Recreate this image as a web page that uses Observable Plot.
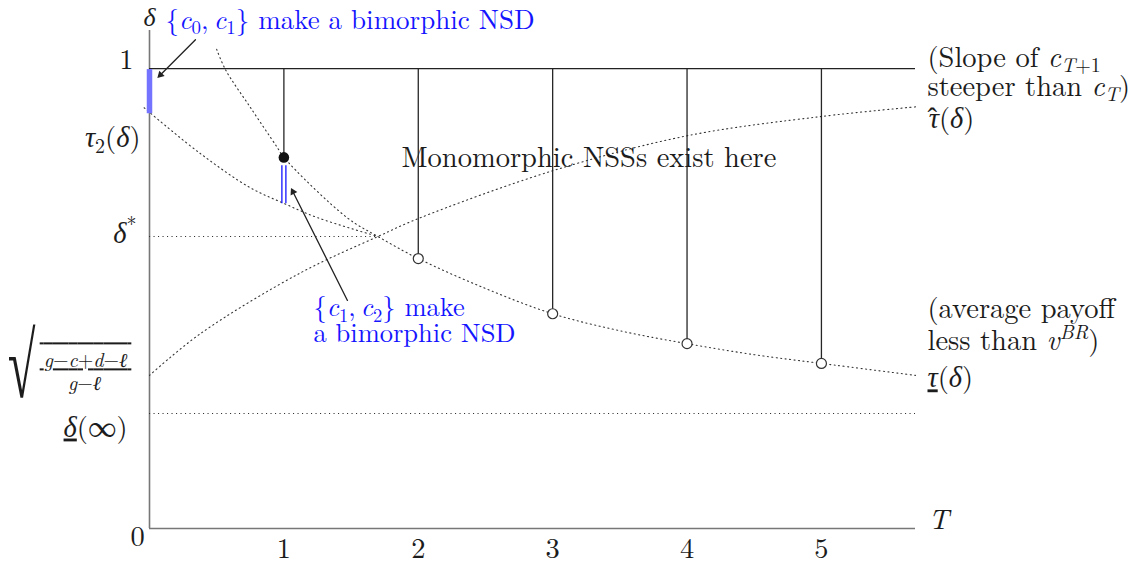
<!DOCTYPE html>
<html><head><meta charset="utf-8">
<script src="https://cdn.jsdelivr.net/npm/d3@7"></script>
<script src="https://cdn.jsdelivr.net/npm/@observablehq/plot@0.6"></script>
<style>html,body{margin:0;padding:0;background:#fff;} svg text{white-space:pre;}</style>
</head><body><div id="chart"></div>
<script>
// ---------- data ----------
const T = [1, 2, 3, 4, 5];
const tauLowAtT = [0.807, 0.587, 0.467, 0.402, 0.359];
const tauLowCurveX = [0.5, 0.565, 0.75, 0.95, 1, 1.47, 1.7, 2, 2.5, 3, 3.5, 4, 4.5, 5, 5.7];
const tauLowCurveY = [1.042, 0.998, 0.916, 0.829, 0.807, 0.676, 0.635, 0.587, 0.522, 0.467, 0.43, 0.402, 0.378, 0.359, 0.333];
const tau2X = [-0.04, 0, 0.38, 0.75, 1, 1.25, 1.7];
const tau2Y = [0.915, 0.905, 0.815, 0.741, 0.707, 0.676, 0.635];
const tauHatX = [0, 0.38, 1.13, 1.7, 2, 3, 4, 5, 5.7];
const tauHatY = [0.333, 0.424, 0.557, 0.635, 0.674, 0.778, 0.854, 0.896, 0.917];
const deltaTop = 1, deltaStar = 0.635, deltaStarT = 1.7, deltaInf = 0.25;
const xMax = 5.7, yMax = 1.083;
const bimorphicT = [0, 1];
const bimorphicLo = [0.902, 0.7065];
const bimorphicHi = [0.998, 0.789];
const xTicks = [1, 2, 3, 4, 5];
const xTickLabels = ["1", "2", "3", "4", "5"];
// annotation arrows (tail -> head), in data units
const arrowTail = [[0.342, 1.063], [1.473, 0.496]];
const arrowHead = [[0.052, 0.978], [1.049, 0.743]];

// ---------- layout ----------
const W = 1131, H = 565, mL = 149, mR = 216, mT = 30, mB = 37;
const kx = (W - mL - mR) / xMax, ky = (H - mT - mB) / yMax; // px per data unit

// ---------- tables ----------
const tauLow = tauLowCurveX.map((x, i) => ({x, y: tauLowCurveY[i]}));
const tau2 = tau2X.map((x, i) => ({x, y: tau2Y[i]}));
const tauHat = tauHatX.map((x, i) => ({x, y: tauHatY[i]}));
const stems = T.map((t, i) => ({t, v: tauLowAtT[i]}));
const bims = bimorphicT.map((t, i) => ({t, lo: bimorphicLo[i], hi: bimorphicHi[i]}));
const arrows = arrowTail.map((a, i) => {
  const h = arrowHead[i];
  const sx = (h[0] - a[0]) * kx, sy = -(h[1] - a[1]) * ky, len = Math.hypot(sx, sy);
  return {x1: a[0], y1: a[1], x2: h[0], y2: h[1], ux: sx / len, uy: sy / len,
          rot: Math.atan2(sx, -sy) * 180 / Math.PI};
});

const INK = "#1c1c1c", BLUE = "#1414ff", FS = 28.5;
const FONT = "Latin Modern Roman, Liberation Serif, serif";
const dotted = {stroke: "#333", strokeWidth: 1.1, strokeDasharray: "1.1,3.4"};

// labels: markup ~italic~  !underline!  _[sub]  ^[sup]  # = hat over previous glyph
const labels = [
  // y axis
  {x: 0, y: deltaTop, text: "1", dx: -16, dy: 0, anchor: "end"},
  {x: 0, y: tau2Y[1], text: "~τ~_[2](~δ~)", dx: -9, dy: 35, anchor: "end"},
  {x: 0, y: deltaStar, text: "~δ~^[*]", dx: -13, dy: 6, anchor: "end"},
  {x: 0, y: deltaInf, text: "!~δ~!(∞)", dx: -22, dy: 23, anchor: "end"},
  {x: 0, y: tauHatY[0], text: "√", dx: -114, dy: 22, anchor: "end", size: 56, scale: [0.9, 1.64]},
  {x: 0, y: tauHatY[0], text: "\u2009~g~−~c~+~d~−~ℓ~\u2009", dx: -64, dy: -8, anchor: "middle", size: 20, deco: "underline overline"},
  {x: 0, y: tauHatY[0], text: "~g~−~ℓ~", dx: -65, dy: 15, anchor: "middle", size: 20},
  {x: 0, y: 0, text: "0", dx: -12, dy: 17, anchor: "middle"},
  {x: 0, y: yMax, text: "~δ~", dx: 0, dy: -5, anchor: "middle", size: 26},
  {x: xMax, y: 0, text: "~T~", dx: 13, dy: 0, anchor: "start"},
  // right side
  {x: xMax, y: deltaTop, text: "(Slope of ~c~_[~T~+1]", dx: 12, dy: -2, anchor: "start"},
  {x: xMax, y: deltaTop, text: "steeper than ~c~_[~T~])", dx: 12, dy: 27, anchor: "start"},
  {x: xMax, y: tauHatY[tauHatY.length - 1], text: "~τ~#(~δ~)", dx: 12, dy: 21, anchor: "start"},
  {x: xMax, y: tauLowCurveY[tauLowCurveY.length - 1], text: "(average payoff", dx: 12, dy: -57, anchor: "start"},
  {x: xMax, y: tauLowCurveY[tauLowCurveY.length - 1], text: "less than ~v~^[~BR~])", dx: 12, dy: -25, anchor: "start"},
  {x: xMax, y: tauLowCurveY[tauLowCurveY.length - 1], text: "!~τ~!(~δ~)", dx: 12, dy: 12, anchor: "start"},
  // annotations
  {x: 0, y: yMax, text: "{~c~_[0],\u2009~c~_[1]} make a bimorphic NSD", dx: 16, dy: -2, anchor: "start", color: BLUE, size: 27},
  {x: 1.22, y: 0.459, text: "{~c~_[1],\u2009~c~_[2]} make", dx: 0, dy: -1, anchor: "start", color: BLUE, size: 26.5},
  {x: 1.22, y: 0.411, text: "a bimorphic NSD", dx: 0, dy: 2, anchor: "start", color: BLUE, size: 26.5},
  {x: 3.27, y: 0.787, text: "Monomorphic NSSs exist here", dx: 0, dy: 0, anchor: "middle"}
];

const textMarks = labels.map(l => Plot.text([l], {
  x: "x", y: "y", text: "text", dx: l.dx, dy: l.dy, textAnchor: l.anchor,
  lineAnchor: "bottom", fontSize: l.size || FS, fill: l.color || INK, fontFamily: FONT
}));

// filled arrow heads (triangles whose tip sits on the arrow head)
const HEAD_R = 3.6, TIP = HEAD_R * 1.55;
const headMarks = arrows.map(a => Plot.dot([a], {
  x: "x2", y: "y2", symbol: "triangle2", r: HEAD_R, fill: "#222", rotate: "rot",
  dx: -a.ux * TIP, dy: -a.uy * TIP
}));

const plot = Plot.plot({
  width: W, height: H,
  marginLeft: mL, marginRight: mR, marginTop: mT, marginBottom: mB,
  x: {domain: [0, xMax], axis: null},
  y: {domain: [0, yMax], axis: null},
  style: {fontFamily: FONT, background: "#fff"},
  marks: [
    Plot.ruleX([0], {y1: 0, y2: yMax, stroke: "#777", strokeWidth: 1.6}),
    Plot.ruleY([0], {x1: 0, x2: xMax, stroke: "#777", strokeWidth: 1.6}),
    Plot.ruleY([deltaTop], {x1: 0, x2: xMax, stroke: "#222", strokeWidth: 1.2}),
    Plot.ruleY([deltaStar], {x1: 0, x2: deltaStarT, ...dotted}),
    Plot.ruleY([deltaInf], {x1: 0, x2: xMax, ...dotted}),
    Plot.line(tauLow, {x: "x", y: "y", curve: "catmull-rom", ...dotted}),
    Plot.line(tau2, {x: "x", y: "y", curve: "catmull-rom", ...dotted}),
    Plot.line(tauHat, {x: "x", y: "y", curve: "catmull-rom", ...dotted}),
    Plot.ruleX(stems, {x: "t", y1: "v", y2: deltaTop, stroke: "#262626", strokeWidth: 1.3}),
    Plot.ruleX(bims.slice(0, 1), {x: "t", y1: "lo", y2: "hi", stroke: "#7373ff", strokeWidth: 5.5}),
    Plot.ruleX(bims.slice(1), {x: "t", y1: "lo", y2: "hi", stroke: BLUE, strokeWidth: 1.3, dx: -2}),
    Plot.ruleX(bims.slice(1), {x: "t", y1: "lo", y2: "hi", stroke: BLUE, strokeWidth: 1.3, dx: 2}),
    Plot.dot(stems.slice(0, 1), {x: "t", y: "v", r: 5.3, fill: "#111"}),
    Plot.dot(stems.slice(1), {x: "t", y: "v", r: 5, fill: "#fff", stroke: "#333", strokeWidth: 1.2}),
    Plot.arrow(arrows, {x1: "x1", y1: "y1", x2: "x2", y2: "y2", stroke: "#222", strokeWidth: 1.3, headLength: 0, insetEnd: 4}),
    ...headMarks,
    Plot.text(xTicks, {x: d => d, y: 0, text: (d, i) => xTickLabels[i], dy: 29, lineAnchor: "bottom",
      textAnchor: "middle", fontSize: FS, fill: INK, fontFamily: FONT}),
    ...textMarks
  ]
});

// ---------- rich text post-processing ----------
function parseMarkup(s) {
  const runs = []; let it = false, ul = false, mode = 0, buf = "";
  const push = () => { if (buf) runs.push({text: buf, it, ul, mode}); buf = ""; };
  for (let i = 0; i < s.length; i++) {
    const ch = s[i];
    if (ch === "~") { push(); it = !it; }
    else if (ch === "!") { push(); ul = !ul; }
    else if (ch === "#") { push(); runs.push({hat: true, text: "ˆ", mode}); }
    else if ((ch === "_" || ch === "^") && s[i + 1] === "[") { push(); mode = ch === "_" ? 1 : 2; i++; }
    else if (ch === "]" && mode) { push(); mode = 0; }
    else buf += ch;
  }
  push();
  return runs;
}
function richify(root) {
  root.querySelectorAll("text").forEach(t => {
    const s = t.textContent;
    if (!/[~!#]|[_^]\[/.test(s)) return;
    const runs = parseMarkup(s);
    t.textContent = "";
    let cur = 0, pendingDx = 0;
    for (const r of runs) {
      const ts = document.createElementNS("http://www.w3.org/2000/svg", "tspan");
      const scale = r.mode ? 0.7 : 1;
      const target = r.mode === 1 ? 0.2 : r.mode === 2 ? -0.4 : 0;
      const d = target - cur;
      if (Math.abs(d) > 1e-9) ts.setAttribute("dy", (d / scale) + "em");
      cur = target;
      if (r.hat) {
        ts.setAttribute("dx", "-0.40em");
        ts.setAttribute("font-family", "Liberation Serif");
        pendingDx = 0.067;
      } else if (pendingDx) {
        ts.setAttribute("dx", pendingDx + "em");
        pendingDx = 0;
      }
      if (r.mode) ts.setAttribute("font-size", "70%");
      if (r.it) ts.setAttribute("font-style", "italic");
      if (r.ul) ts.setAttribute("text-decoration", "underline");
      ts.textContent = r.text;
      t.appendChild(ts);
    }
  });
  const plain = s => parseMarkup(s).map(r => r.text).join("");
  for (const l of labels) {
    if (!l.scale && !l.deco) continue;
    const p = plain(l.text);
    root.querySelectorAll("text").forEach(t => {
      if (t.textContent !== p) return;
      if (l.deco) t.style.textDecoration = l.deco;
      if (l.scale) {
        t.setAttribute("font-family", "Liberation Serif");
        const tr = t.getAttribute("transform") || "";
        t.setAttribute("transform", tr + ` scale(${l.scale[0]},${l.scale[1]})`);
      }
    });
  }
}
richify(plot);
document.getElementById("chart").appendChild(plot);
</script>
</body></html>
